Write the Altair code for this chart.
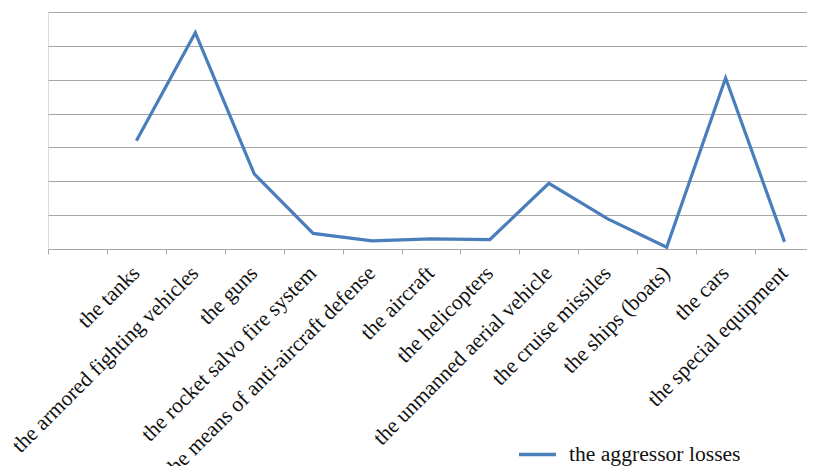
import altair as alt
import pandas as pd

blank = " "
categories = [
    "the tanks",
    "the armored fighting vehicles",
    "the guns",
    "the rocket salvo fire system",
    "the means of anti-aircraft defense",
    "the aircraft",
    "the helicopters",
    "the unmanned aerial vehicle",
    "the cruise missiles",
    "the ships (boats)",
    "the cars",
    "the special equipment",
]
values = [3.2, 6.39, 2.22, 0.46, 0.24, 0.30, 0.28, 1.94, 0.89, 0.05, 5.05, 0.21]
series_name = "the aggressor losses"
y_ticks = [0, 1, 2, 3, 4, 5, 6, 7]

df = pd.DataFrame({"category": categories, "value": values, "series": [series_name] * len(categories)})

font = "Liberation Serif"

chart = (
    alt.Chart(df)
    .mark_line(strokeWidth=3.2)
    .encode(
        x=alt.X(
            "category:N",
            sort=None,
            scale=alt.Scale(domain=[blank] + categories, paddingInner=0, paddingOuter=0, range=[0, 766]),
            axis=alt.Axis(
                title=None,
                labelAngle=-45,
                labelAlign="right",
                labelBaseline="alphabetic",
                labelPadding=20,
                labelOffset=4,
                labelFont=font,
                labelFontSize=21.6,
                labelColor="#111111",
                labelLimit=0,
                labelOverlap=False,
                tickBand="extent",
                tickSize=5,
                tickColor="#a6a6a6",
                domainColor="#a6a6a6",
                grid=False,
            ),
        ),
        y=alt.Y(
            "value:Q",
            scale=alt.Scale(domain=[0, 7], nice=False, zero=True),
            axis=alt.Axis(
                title=None,
                values=y_ticks,
                labels=False,
                ticks=False,
                domain=False,
                grid=True,
                gridColor="#a6a6a6",
                gridWidth=1,
            ),
        ),
        color=alt.Color(
            "series:N",
            scale=alt.Scale(domain=[series_name], range=["#4a7ebb"]),
            legend=alt.Legend(
                title=None,
                orient="none",
                legendX=469,
                legendY=422,
                symbolType="stroke",
                symbolSize=1369,
                symbolStrokeWidth=3.5,
                labelFont=font,
                labelFontSize=21.6,
                labelColor="#111111",
                labelOffset=11,
                labelLimit=0,
                padding=0,
            ),
        ),
    )
    .properties(
        width=759,
        height=237,
        autosize=alt.AutoSizeParams(type="none"),
        padding={"left": 40, "top": 4, "right": 0, "bottom": 217},
    )
    .configure_view(stroke=None)
    .configure(background="white")
)

chart.save("out.html", embed_options={"renderer": "svg", "actions": False})
